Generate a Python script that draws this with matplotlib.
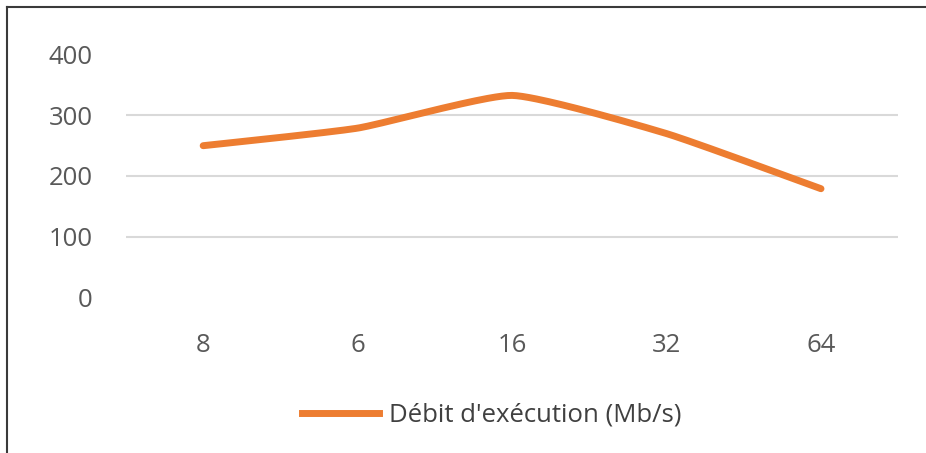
import numpy as np
import matplotlib
matplotlib.use('Agg')
import matplotlib.pyplot as plt
from matplotlib.lines import Line2D

categories = ['8', '6', '16', '32', '64']
debit = [250, 279, 333, 270, 179]
y_ticks = [0, 100, 200, 300, 400]
series_name = "Débit d'exécution (Mb/s)"


def smooth(xs, ys, n=40, k=12):
    # light Bezier smoothing between the points, like Excel's smoothed line
    px = [xs[0]] + list(xs) + [xs[-1]]
    py = [ys[0]] + list(ys) + [ys[-1]]
    out_x, out_y = [], []
    for i in range(1, len(px) - 2):
        p0, p1, p2, p3 = [np.array([px[j], py[j]], float) for j in range(i - 1, i + 3)]
        c1 = p1 + (p2 - p0) / k
        c2 = p2 - (p3 - p1) / k
        t = np.linspace(0, 1, n)[:, None]
        pts = (1 - t) ** 3 * p1 + 3 * (1 - t) ** 2 * t * c1 + 3 * (1 - t) * t ** 2 * c2 + t ** 3 * p2
        out_x.extend(pts[:, 0])
        out_y.extend(pts[:, 1])
    return out_x, out_y


plt.rcParams['font.family'] = ['Open Sans', 'DejaVu Sans']

fig = plt.figure(figsize=(9.26, 4.53), dpi=100)
ax = fig.add_axes([0.136, 0.344, 0.834, 0.535])

x = np.arange(len(categories))
sx, sy = smooth(x, debit)
ax.plot(sx, sy, color='#ED7D31', lw=5, solid_capstyle='round', solid_joinstyle='round')

ax.set_xlim(-0.5, len(categories) - 0.5)
ax.set_ylim(0, 400)
ax.set_yticks(y_ticks)
ax.set_xticks(x)
ax.set_xticklabels(categories)
for v in [100, 200, 300]:
    ax.axhline(v, color='#D9D9D9', lw=1.5, zorder=0)

for s in ax.spines.values():
    s.set_visible(False)
ax.tick_params(length=0, labelsize=18.5, labelcolor='#595959')
ax.tick_params(axis='y', pad=24)
ax.tick_params(axis='x', pad=26)

fig.legend(handles=[Line2D([], [], color='#ED7D31', lw=5)], labels=[series_name],
           loc='center', bbox_to_anchor=(0.531, 0.083), frameon=False,
           fontsize=18.5, handlelength=3.0, handletextpad=0.4, labelcolor='#404040')

# outer border (top and left only)
fig.add_artist(Line2D([7 / 926, 1], [1 - 7 / 453, 1 - 7 / 453], color='#3a3a3a', lw=1.5))
fig.add_artist(Line2D([7 / 926, 7 / 926], [0, 1 - 7 / 453], color='#3a3a3a', lw=1.5))

fig.savefig('out.png', dpi=100, facecolor='white')
